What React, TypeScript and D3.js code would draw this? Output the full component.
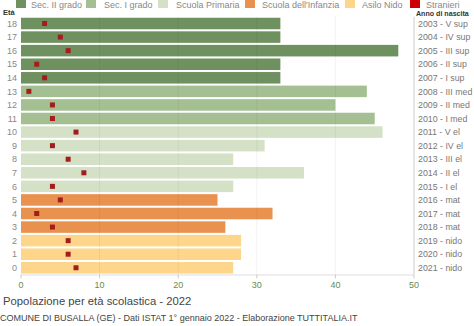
import React from "react";
import * as d3 from "d3";

const ages = [18, 17, 16, 15, 14, 13, 12, 11, 10, 9, 8, 7, 6, 5, 4, 3, 2, 1, 0];
const totals = [33, 33, 48, 33, 33, 44, 40, 45, 46, 31, 27, 36, 27, 25, 32, 26, 28, 28, 27];
const stranieri = [3, 5, 6, 2, 3, 1, 4, 4, 7, 4, 6, 8, 4, 5, 2, 4, 6, 6, 7];
const birthLabels = [
  "2003 - V sup", "2004 - IV sup", "2005 - III sup", "2006 - II sup", "2007 - I sup",
  "2008 - III med", "2009 - II med", "2010 - I med",
  "2011 - V el", "2012 - IV el", "2013 - III el", "2014 - II el", "2015 - I el",
  "2016 - mat", "2017 - mat", "2018 - mat",
  "2019 - nido", "2020 - nido", "2021 - nido",
];
const levels = ["Sec. II grado", "Sec. I grado", "Scuola Primaria", "Scuola dell'Infanzia", "Asilo Nido", "Stranieri"];
const levelColors = ["#6f9160", "#a4bf92", "#d5e1c6", "#e9924f", "#fdd68c", "#cc0000"];
const xTicks = [0, 10, 20, 30, 40, 50];

function levelOf(age: number) {
  if (age >= 14) return 0;
  if (age >= 11) return 1;
  if (age >= 6) return 2;
  if (age >= 3) return 3;
  return 4;
}

export default function App() {
  const W = 474, H = 326;
  const left = 21, right = 414, top = 16.8, bottom = 274.5;
  const x = d3.scaleLinear().domain([0, 50]).range([left, right]);
  const y = d3.scaleBand<number>().domain(ages).range([top, bottom]).paddingInner(0.15).paddingOuter(0.07);
  const legendText = [31, 104, 176, 262, 362, 426];
  const legendSq = [16, 86, 158, 245, 345, 410];
  const font = "Liberation Sans, Arial, sans-serif";
  return (
    <svg width={W} height={H} style={{ position: "absolute", left: 0, top: 0 }} fontFamily={font}>
      <rect width={W} height={H} fill="#fff" />
      {levels.map((l, i) => (
        <g key={l}>
          <rect x={legendSq[i]} y={-2} width={10} height={10} fill={levelColors[i]} />
          <text x={legendText[i]} y={8} fontSize={9} fill="#888">{l}</text>
        </g>
      ))}
      <text x={3} y={15} fontSize={7.5} fontWeight="bold" fill="#333">Età</text>
      <text x={416} y={16} fontSize={7.1} fontWeight="bold" fill="#333">Anno di nascita</text>
      {ages.map((a, i) => (
        <g key={a}>
          <rect x={x(0)} y={y(a)!} width={x(totals[i]) - x(0)} height={y.bandwidth()} fill={levelColors[levelOf(a)]} />
          <text x={17} y={y(a)! + y.bandwidth() / 2 + 3.2} fontSize={9} fill="#888" textAnchor="end">{a}</text>
          <text x={418} y={y(a)! + y.bandwidth() / 2 + 3.2} fontSize={8.8} fill="#777">{birthLabels[i]}</text>
        </g>
      ))}
      {xTicks.slice(1, 5).map((t) => (
        <line key={t} x1={x(t)} x2={x(t)} y1={top} y2={bottom} stroke="#000" strokeOpacity={0.1} strokeDasharray="1,1" />
      ))}
      {ages.map((a, i) => (
        <rect key={"s" + a} x={x(stranieri[i]) - 2.5} y={y(a)! + y.bandwidth() / 2 - 2.5} width={5} height={5} fill="#a31d1d" />
      ))}
      <line x1={right} x2={right} y1={top} y2={bottom} stroke="#ccc" />
      <line x1={left} x2={right} y1={bottom + 0.5} y2={bottom + 0.5} stroke="#ddd" />
      {xTicks.map((t) => (
        <g key={"t" + t}>
          <line x1={x(t)} x2={x(t)} y1={bottom} y2={bottom + 4} stroke="#ccc" />
          <text x={x(t)} y={288} fontSize={9} fill="#6a8a50" textAnchor="middle">{t}</text>
        </g>
      ))}
      <text x={3} y={305} fontSize={11.3} fill="#444">Popolazione per età scolastica - 2022</text>
      <text x={0} y={321} fontSize={9} fill="#444">COMUNE DI BUSALLA (GE) - Dati ISTAT 1° gennaio 2022 - Elaborazione TUTTITALIA.IT</text>
    </svg>
  );
}
